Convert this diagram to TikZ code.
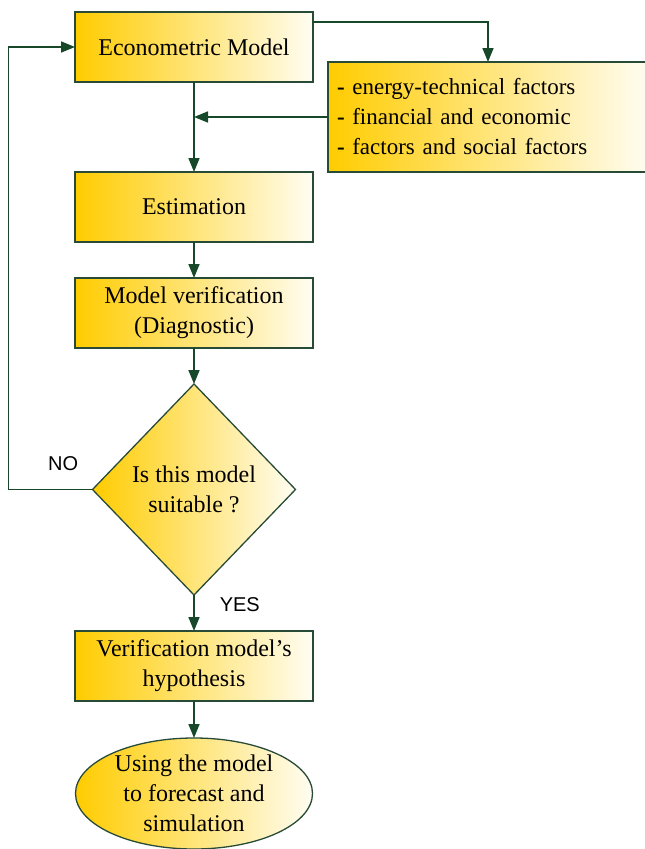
\documentclass[tikz,border=0pt]{standalone}
\usepackage{fontspec}
\setmainfont{Liberation Serif}
\setsansfont{Liberation Sans}
\usepackage{xcolor}
\usetikzlibrary{arrows.meta,positioning,calc,shapes.geometric}
\definecolor{gold}{RGB}{255,204,0}
\definecolor{cream}{RGB}{255,253,242}
\definecolor{edge}{RGB}{40,75,55}
\definecolor{arrowgreen}{RGB}{24,72,42}

\begin{document}
\begin{tikzpicture}[
    x=1pt, y=1pt,
    >={Triangle[length=14pt,width=11pt]},
    box/.style={draw=edge, line width=1.3pt, left color=gold, right color=cream,
                font=\fontsize{24}{30}\selectfont, text=black, outer sep=0pt,
                minimum width=238pt, minimum height=70pt, align=center, inner sep=2pt},
    decision/.style={box, diamond, minimum width=203pt, minimum height=211pt, inner sep=0pt},
    terminal/.style={box, ellipse, minimum width=237pt, minimum height=111pt, inner sep=0pt},
    lbl/.style={font=\fontsize{20}{24}\selectfont\sffamily, text=black, inner sep=0pt},
    arr/.style={->, line width=1.6pt, color=arrowgreen},
  ]
  \useasboundingbox (0,0) rectangle (645,-849);

  % Main chain
  \node[box] (econ) at (194,-47) {Econometric Model};
  \node[box, below=90pt of econ] (est) {Estimation};
  \node[box, below=36pt of est] (verif) {Model verification\\(Diagnostic)};
  \node[decision, below=36pt of verif] (dec) {Is this model\\suitable ?};
  \node[box, below=36pt of dec] (hyp) {Verification model's\\hypothesis};
  \node[terminal, below=37pt of hyp] (use) {Using the model\\to forecast and\\simulation};

  % Factors box on the right
  \node[box, anchor=north west, minimum width=320pt, minimum height=110pt,
        font=\fontsize{23}{30}\selectfont,
        align=left, inner xsep=9pt, text width=302pt] (factors) at (328,-62)
    {\textbf{-} energy-technical factors\\
     \textbf{-} financial and economic\\
     \textbf{-} factors and social factors};

  \draw[arr] ([yshift=-10pt]econ.north east) -| (factors.north);
  \draw[arr] (factors.west) -- (factors.west -| econ.south);
  \draw[arr] (econ) -- (est);
  \draw[arr] (est) -- (verif);
  \draw[arr] (verif) -- (dec);

  % Loop back when not suitable
  \coordinate (back) at ([xshift=-84pt]dec.west);
  \draw[arr] (dec.west) -- node[lbl, pos=0.35, above=18pt] {NO} (back) |- (econ.west);
  \draw[arr] (dec.south) -- node[lbl, pos=0.28, right=25pt] {YES} (hyp.north);
  \draw[arr] (hyp) -- (use);
\end{tikzpicture}
\end{document}
